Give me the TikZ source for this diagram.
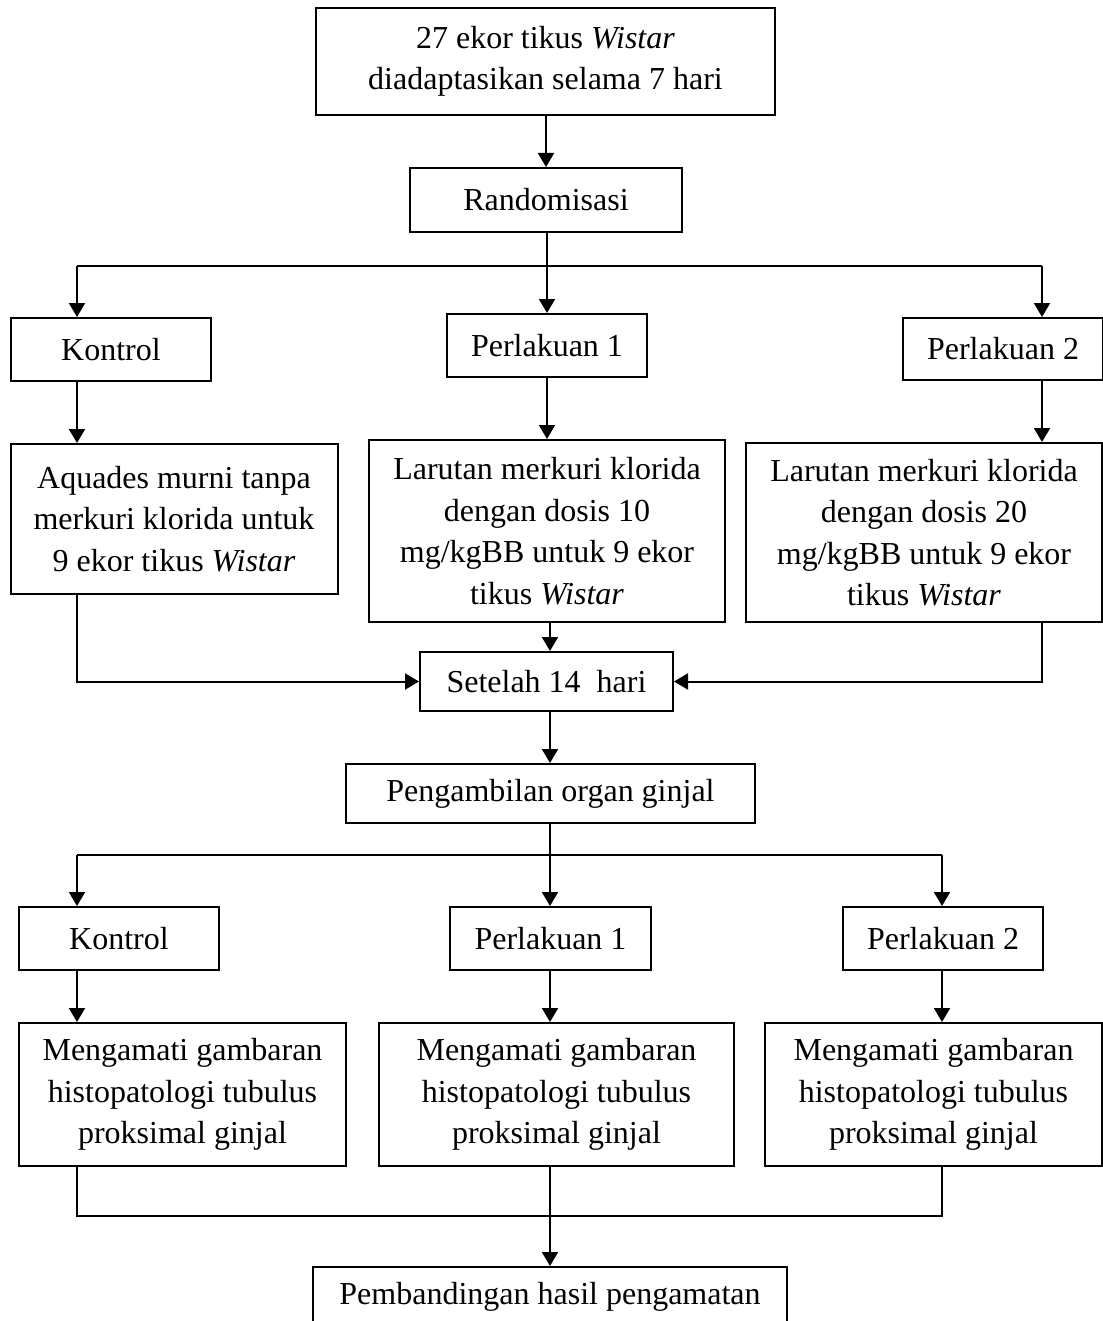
\documentclass[tikz,border=0pt]{standalone}
\usepackage{fontspec}
\setmainfont{Liberation Serif}
\usetikzlibrary{arrows.meta}
\newcommand{\boxfont}{\fontsize{16}{20.75}\selectfont}
\begin{document}
\begin{tikzpicture}[x=0.5pt,y=-0.5pt,
  box/.style={draw, line width=1pt, inner sep=0pt, align=center, font=\boxfont, rectangle},
  link/.style={line width=1pt},
  arr/.style={line width=1pt, -{Triangle[length=7pt,width=8pt]}}]
\useasboundingbox (0,0) rectangle (1102,1321);
% nodes
\node[box, minimum width=229.5pt, minimum height=53.5pt] (top) at (545.5,61.5) {27 ekor tikus \textit{Wistar}\\diadaptasikan selama 7 hari};
\node[box, minimum width=136pt, minimum height=32pt] (rand) at (546,200) {Randomisasi};
\node[box, minimum width=100pt, minimum height=31.5pt] (K1) at (111,349.5) {Kontrol};
\node[box, minimum width=100pt, minimum height=31.5pt] (P1a) at (547,345.5) {Perlakuan 1};
\node[box, minimum width=100pt, minimum height=31pt] (P2a) at (1003,349) {Perlakuan 2};
\node[box, minimum width=163.5pt, minimum height=75pt] (A) at (174,519) {Aquades murni tanpa\\merkuri klorida untuk\\9 ekor tikus \textit{Wistar}};
\node[box, minimum width=178pt, minimum height=91pt] (L10) at (547,531) {Larutan merkuri klorida\\dengan dosis 10\\mg/kgBB untuk 9 ekor\\tikus \textit{Wistar}};
\node[box, minimum width=178pt, minimum height=89.5pt] (L20) at (924,532.5) {Larutan merkuri klorida\\dengan dosis 20\\mg/kgBB untuk 9 ekor\\tikus \textit{Wistar}};
\node[box, minimum width=126.5pt, minimum height=29.5pt] (S) at (546.5,681.5) {Setelah 14\ \ hari};
\node[box, minimum width=204.5pt, minimum height=29.5pt] (Peng) at (550.5,793.5) {Pengambilan organ ginjal};
\node[box, minimum width=100pt, minimum height=31.5pt] (K2) at (119,938.5) {Kontrol};
\node[box, minimum width=100.5pt, minimum height=31.5pt] (P1b) at (550.5,938.5) {Perlakuan 1};
\node[box, minimum width=100pt, minimum height=31.5pt] (P2b) at (943,938.5) {Perlakuan 2};
\node[box, minimum width=163.5pt, minimum height=71.5pt] (M1) at (182.5,1094.5) {Mengamati gambaran\\histopatologi tubulus\\proksimal ginjal};
\node[box, minimum width=177.5pt, minimum height=71.5pt] (M2) at (556.5,1094.5) {Mengamati gambaran\\histopatologi tubulus\\proksimal ginjal};
\node[box, minimum width=168.5pt, minimum height=71.5pt] (M3) at (933.5,1094.5) {Mengamati gambaran\\histopatologi tubulus\\proksimal ginjal};
\node[box, minimum width=237pt, minimum height=30pt] (F) at (550,1297) {Pembandingan hasil pengamatan};
% column and bus coordinates
\coordinate (cL) at (77,0);
\coordinate (cM1) at (547,0);
\coordinate (cR1) at (1042,0);
\coordinate (cM) at (550,0);
\coordinate (cR) at (942,0);
\coordinate (bus1) at (547,266);
\coordinate (bus2) at (550,855);
\coordinate (bus3) at (550,1216);
% top part
\draw[arr] (top.south -| rand.north) -- (rand.north);
\draw[link] (cL |- bus1) -- (cR1 |- bus1);
\draw[arr] (cM1 |- rand.south) -- (cM1 |- P1a.north);
\draw[arr] (cL |- bus1) -- (cL |- K1.north);
\draw[arr] (cR1 |- bus1) -- (cR1 |- P2a.north);
\draw[arr] (cL |- K1.south) -- (cL |- A.north);
\draw[arr] (cM1 |- P1a.south) -- (cM1 |- L10.north);
\draw[arr] (cR1 |- P2a.south) -- (cR1 |- L20.north);
\draw[arr] (cL |- A.south) |- (S.west);
\draw[arr] (cM |- L10.south) -- (cM |- S.north);
\draw[arr] (cR1 |- L20.south) |- (S.east);
\draw[arr] (cM |- S.south) -- (cM |- Peng.north);
% lower part
\draw[link] (cL |- bus2) -- (cR |- bus2);
\draw[arr] (cM |- Peng.south) -- (cM |- P1b.north);
\draw[arr] (cL |- bus2) -- (cL |- K2.north);
\draw[arr] (cR |- bus2) -- (cR |- P2b.north);
\draw[arr] (cL |- K2.south) -- (cL |- M1.north);
\draw[arr] (cM |- P1b.south) -- (cM |- M2.north);
\draw[arr] (cR |- P2b.south) -- (cR |- M3.north);
\draw[link] (cL |- M1.south) -- (cL |- bus3) -- (cR |- bus3) -- (cR |- M3.south);
\draw[arr] (cM |- M2.south) -- (cM |- F.north);
\end{tikzpicture}
\end{document}
